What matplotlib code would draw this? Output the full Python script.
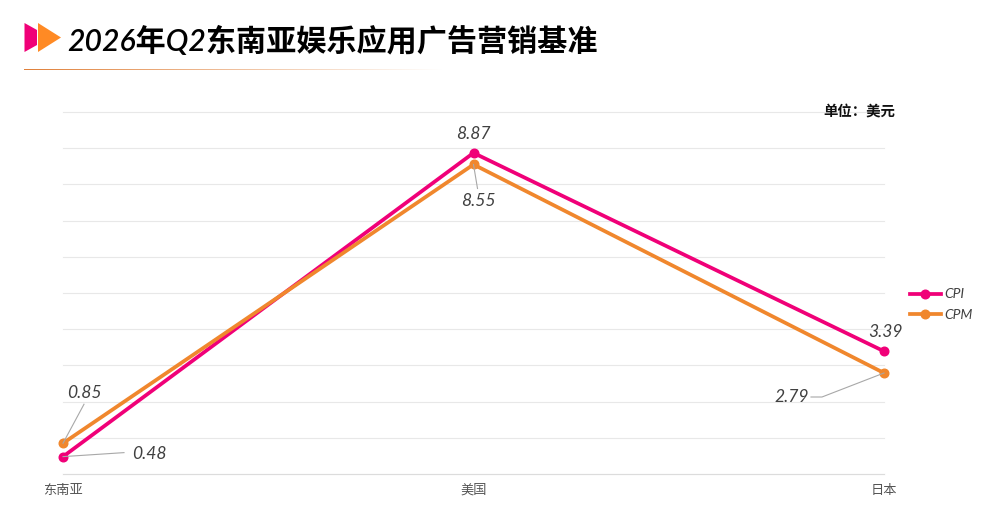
import numpy as np
import matplotlib
matplotlib.use("Agg")
import matplotlib.pyplot as plt
from matplotlib.patches import Polygon
from matplotlib.lines import Line2D
from matplotlib.transforms import Affine2D

categories = ["东南亚", "美国", "日本"]
cpi_values = [0.48, 8.87, 3.39]
cpm_values = [0.85, 8.55, 2.79]
title_text = "2026年Q2东南亚娱乐应用广告营销基准"
unit_text = "单位：美元"

PINK = "#F00078"
ORANGE = "#F0872D"
W, H = 1006, 530
LAT = ["Lato", "Noto Sans CJK SC"]
CJK = ["Noto Sans CJK SC", "DejaVu Sans"]

fig = plt.figure(figsize=(W / 100, H / 100), dpi=100, facecolor="white")

def fx(px): return px / W
def fy(py): return 1 - py / H

# plot area
L, R, T, B = 63, 884, 112, 474
ax = fig.add_axes([fx(L), fy(B), fx(R - L), (B - T) / H])
ax.set_xlim(0, 2)
ax.set_ylim(0, 10)
for s in ax.spines.values():
    s.set_visible(False)
ax.set_yticks(np.arange(0, 11))
ax.set_yticklabels([])
ax.tick_params(axis="y", length=0)
ax.grid(axis="y", color="#E8E8E8", lw=0.8, clip_on=False)
ax.set_axisbelow(True)
ax.axhline(0, color="#DCDCDC", lw=0.8, zorder=1, clip_on=False)
x = np.arange(len(categories))
ax.set_xticks(x)
ax.set_xticklabels(categories, family=CJK, fontsize=9.5, color="#555555", fontweight="medium")
ax.tick_params(axis="x", length=0, pad=7)

l1, = ax.plot(x, cpi_values, color=PINK, lw=2.7, marker="o", ms=6.2, clip_on=False, zorder=3, label="CPI")
l2, = ax.plot(x, cpm_values, color=ORANGE, lw=2.7, marker="o", ms=6.2, clip_on=False, zorder=4, label="CPM")

LABEL = dict(family=LAT, style="italic", fontsize=12.6, color="#404040", va="center")
def value_label(values, i, dx, dy, ha="center", leader=None):
    px, py = ax.transData.transform((x[i], values[i]))
    fig.text((px + dx) / W, (py + dy) / H, f"{values[i]:.2f}", ha=ha, **LABEL)
    if leader:
        xs = [px + a for a, _ in leader]
        ys = [py + b for _, b in leader]
        fig.add_artist(Line2D(xs, ys, transform=Affine2D(), color="#A8A8A8", lw=0.8, zorder=6))

value_label(cpi_values, 0, 69, 3, "left", [(0, 0), (61, 4)])
value_label(cpm_values, 0, 21, 50, "center", [(0, 0), (21, 39)])
value_label(cpi_values, 1, 0, 19)
value_label(cpm_values, 1, 5, -37, "center", [(0, 0), (4, -24)])
value_label(cpi_values, 2, 1, 19)
value_label(cpm_values, 2, -75, -24, "right", [(0, 0), (-62, -24), (-73, -24)])

leg = fig.legend(handles=[l1, l2], loc="upper left", bbox_to_anchor=(fx(897), fy(276)),
                 frameon=False, handlelength=2.3, handletextpad=0.2, labelspacing=0.62,
                 prop={"family": LAT, "style": "italic", "size": 10})
for t in leg.get_texts():
    t.set_color("#404040")

fig.text(fx(895), fy(111), unit_text, family=CJK, fontsize=10.4, fontweight="bold",
         color="#111111", ha="right", va="center")

fig.text(fx(67), fy(41), title_text, family=LAT, style="italic", fontweight="semibold",
         fontsize=21.7, color="black", ha="left", va="center")

def P(pts, c):
    fig.add_artist(Polygon([(fx(a), fy(b)) for a, b in pts], closed=True, transform=fig.transFigure,
                           facecolor=c, edgecolor="none"))
P([(24.5, 23), (37, 30), (37, 45), (24.5, 52)], PINK)
P([(38, 23), (61, 37.5), (38, 52)], "#FF8A24")

gax = fig.add_axes([fx(24), fy(70), fx(420), 1 / H])
gax.axis("off")
g = np.ones((1, 256, 4))
g[..., :3] = matplotlib.colors.to_rgb("#E0803A")
g[..., 3] = np.linspace(1, 0, 256)
gax.imshow(g, aspect="auto", extent=(0, 1, 0, 1))

fig.savefig("out.png", dpi=100, facecolor="white")
